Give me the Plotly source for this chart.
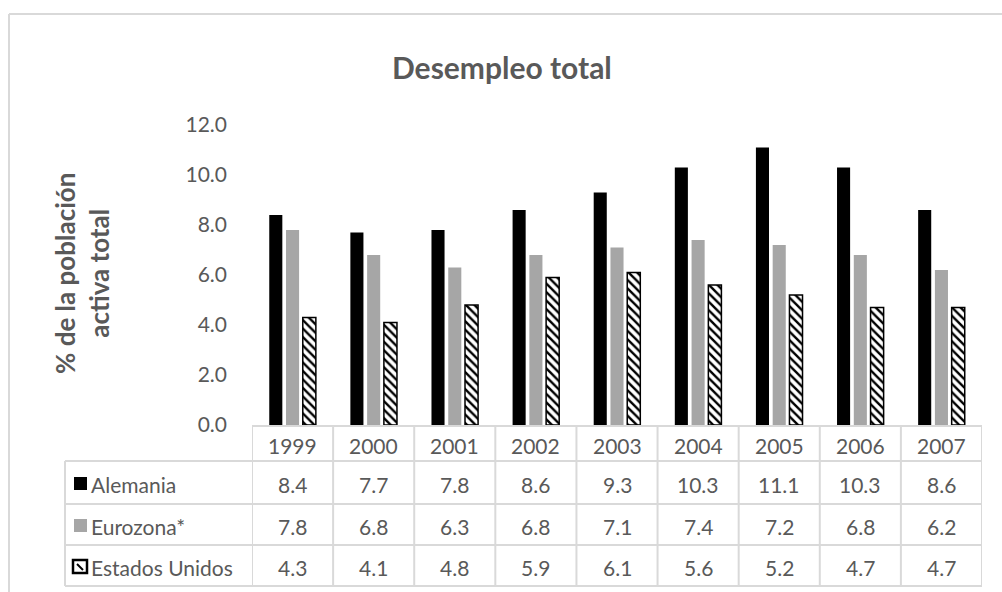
import plotly.graph_objects as go

years = ["1999", "2000", "2001", "2002", "2003", "2004", "2005", "2006", "2007"]
series_names = ["Alemania", "Eurozona*", "Estados Unidos"]
alemania = [8.4, 7.7, 7.8, 8.6, 9.3, 10.3, 11.1, 10.3, 8.6]
eurozona = [7.8, 6.8, 6.3, 6.8, 7.1, 7.4, 7.2, 6.8, 6.2]
eeuu = [4.3, 4.1, 4.8, 5.9, 6.1, 5.6, 5.2, 4.7, 4.7]
y_ticks = [0, 2, 4, 6, 8, 10, 12]
title_text = "Desempleo total"
y_title = "% de la población<br>activa total"

W, H = 1002, 592
L, R, T, B = 252, 982, 125, 425
TXT = "#595959"
GRID = "#d9d9d9"
FONT = "Lato"
FS = 21


def px_x(px):
    return (px - L) / (R - L)


def px_y(py):
    return (B - py) / (B - T)


fig = go.Figure()
fig.add_trace(go.Bar(x=years, y=alemania, name=series_names[0],
                     marker=dict(color="#000000", line=dict(width=0))))
fig.add_trace(go.Bar(x=years, y=eurozona, name=series_names[1],
                     marker=dict(color="#a6a6a6", line=dict(width=0))))
fig.add_trace(go.Bar(x=years, y=eeuu, name=series_names[2],
                     marker=dict(color="#ffffff",
                                 line=dict(color="#000000", width=1.5),
                                 pattern=dict(shape="\\", fgcolor="#000000",
                                              bgcolor="#ffffff", size=6,
                                              solidity=0.4, fillmode="replace"))))

shapes = []
# chart border (top and left)
shapes.append(dict(type="line", xref="paper", yref="paper",
                   x0=px_x(9), x1=px_x(1010), y0=px_y(14), y1=px_y(14),
                   line=dict(color=GRID, width=2)))
shapes.append(dict(type="line", xref="paper", yref="paper",
                   x0=px_x(9), x1=px_x(9), y0=px_y(14), y1=px_y(600),
                   line=dict(color=GRID, width=2)))

row_lines = [426, 461, 504, 545, 586]
n = len(years)
# header top line
shapes.append(dict(type="line", xref="x", yref="paper",
                   x0=-0.5, x1=n - 0.5, y0=px_y(row_lines[0]), y1=px_y(row_lines[0]),
                   line=dict(color=GRID, width=2)))
for ry in row_lines[1:]:
    shapes.append(dict(type="line", xref="paper", yref="paper",
                       x0=px_x(65), x1=1, y0=px_y(ry), y1=px_y(ry),
                       line=dict(color=GRID, width=2)))
# vertical lines
shapes.append(dict(type="line", xref="paper", yref="paper",
                   x0=px_x(65), x1=px_x(65), y0=px_y(row_lines[1]), y1=px_y(row_lines[-1]),
                   line=dict(color=GRID, width=2)))
for i in range(n + 1):
    shapes.append(dict(type="line", xref="x", yref="paper",
                       x0=i - 0.5, x1=i - 0.5, y0=px_y(row_lines[0]), y1=px_y(row_lines[-1]),
                       line=dict(color=GRID, width=2)))

annotations = []
annotations.append(dict(text=title_text, xref="paper", yref="paper",
                        x=px_x(502), y=px_y(67), showarrow=False,
                        xanchor="center", yanchor="middle",
                        font=dict(family=FONT, size=30, color=TXT, weight="bold")))
annotations.append(dict(text=y_title, xref="paper", yref="paper",
                        x=px_x(82), y=px_y(274), showarrow=False, textangle=-90,
                        xanchor="center", yanchor="middle",
                        font=dict(family=FONT, size=26, color=TXT, weight="bold")))

header_y = 445
for i, yr in enumerate(years):
    annotations.append(dict(text=yr, xref="x", yref="paper", x=i, y=px_y(header_y),
                            showarrow=False, xanchor="center", yanchor="middle",
                            font=dict(family=FONT, size=FS, color=TXT)))

row_centers = [484, 526, 567]
all_vals = [alemania, eurozona, eeuu]
for name, vals, cy in zip(series_names, all_vals, row_centers):
    annotations.append(dict(text=name, xref="paper", yref="paper", x=px_x(89), y=px_y(cy),
                            showarrow=False, xanchor="left", yanchor="middle",
                            font=dict(family=FONT, size=FS, color=TXT)))
    for i, v in enumerate(vals):
        annotations.append(dict(text=f"{v:.1f}", xref="x", yref="paper", x=i, y=px_y(cy),
                                showarrow=False, xanchor="center", yanchor="middle",
                                font=dict(family=FONT, size=FS, color=TXT)))

# legend keys
key_colors = ["#000000", "#a6a6a6"]
for col, cy in zip(key_colors, row_centers[:2]):
    shapes.append(dict(type="rect", xref="paper", yref="paper",
                       x0=px_x(74), x1=px_x(87), y0=px_y(cy - 7), y1=px_y(cy + 6),
                       fillcolor=col, line=dict(width=0)))
cy = row_centers[2]
shapes.append(dict(type="rect", xref="paper", yref="paper",
                   x0=px_x(73), x1=px_x(87), y0=px_y(cy - 7), y1=px_y(cy + 6),
                   fillcolor="#ffffff", line=dict(color="#000000", width=2.5)))
shapes.append(dict(type="line", xref="paper", yref="paper",
                   x0=px_x(77), x1=px_x(83), y0=px_y(cy - 3), y1=px_y(cy + 3),
                   line=dict(color="#000000", width=2)))

fig.update_layout(
    width=W, height=H,
    margin=dict(l=L, r=W - R, t=T, b=H - B),
    paper_bgcolor="#ffffff", plot_bgcolor="#ffffff",
    barmode="group", bargap=0.38, bargroupgap=0.22,
    showlegend=False,
    shapes=shapes, annotations=annotations,
    font=dict(family=FONT, color=TXT),
)
fig.update_xaxes(type="category", range=[-0.5, n - 0.5], showticklabels=False,
                 showgrid=False, zeroline=False, showline=False, ticks="")
fig.update_yaxes(range=[0, 12], tickvals=y_ticks, tickformat=".1f",
                 showgrid=False, zeroline=False, showline=False,
                 ticks="", ticklabelstandoff=24,
                 tickfont=dict(family=FONT, size=FS, color=TXT))

fig.write_html("out.html")
